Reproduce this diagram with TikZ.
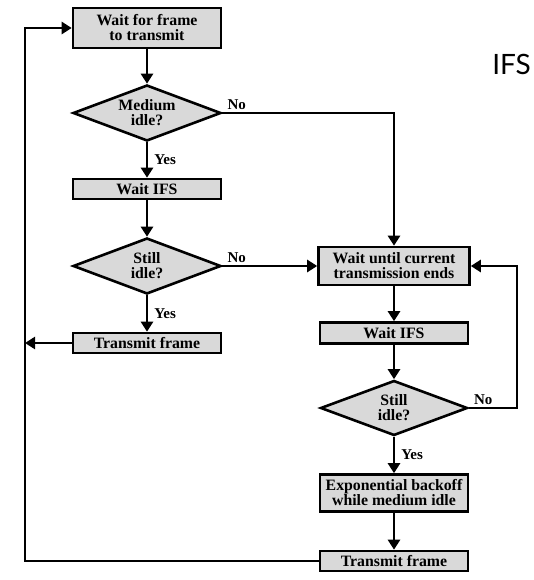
\documentclass[tikz,border=0pt]{standalone}
\usepackage{fontspec}
\setmainfont{Liberation Serif}
\newfontfamily\ifsfont{Lato}
\usetikzlibrary{positioning,shapes.geometric,arrows.meta}
\definecolor{boxgray}{RGB}{217,217,217}

\begin{document}
\begin{tikzpicture}[x=1pt,y=-1pt,
    proc/.style={draw, fill=boxgray, line width=2.6pt, minimum width=148pt, inner sep=1pt,
        align=center, font=\bfseries\fontsize{15.8}{15}\selectfont},
    test/.style={diamond, draw, fill=boxgray, line width=2.6pt, aspect=2.6, inner sep=0pt,
        minimum width=148pt, minimum height=56pt,
        align=center, font=\bfseries\fontsize{15.8}{15}\selectfont},
    flow/.style={line width=2.6pt, -{Triangle[length=10pt,width=12pt]}},
    lbl/.style={font=\bfseries\fontsize{15}{15}\selectfont, inner sep=2pt}
]
    \useasboundingbox (0,0) rectangle (533,580);

    % left column
    \node[proc, minimum height=40pt] (waitframe) at (147,28) {Wait for frame\\to transmit};
    \node[test] (mediumidle) at (147,113) {Medium\\idle?};
    \node[proc, minimum height=20pt] (waitifsa) at (147,189) {Wait IFS};
    \node[test] (stillidlea) at (147,266) {Still\\idle?};
    \node[proc, minimum height=20pt] (transmita) at (147,343) {Transmit frame};

    % right column
    \node[proc, minimum width=151pt, minimum height=38pt] (waitend) at (394,266) {Wait until current\\transmission ends};
    \node[proc, minimum height=21pt] (waitifsb) at (394,333) {Wait IFS};
    \node[test, minimum width=147pt, minimum height=55pt] (stillidleb) at (394,408) {Still\\idle?};
    \node[proc, minimum height=37pt] (backoff) at (394,493) {Exponential backoff\\while medium idle};
    \node[proc, minimum height=20pt] (transmitb) at (394,561) {Transmit frame};

    \node[font=\ifsfont\fontsize{28}{30}\selectfont, anchor=east, inner sep=0pt] (ifstitle) at (531,64) {IFS};

    \coordinate (leftloop) at (25,28);
    \coordinate (rightloop) at (517,408);

    \draw[flow] (waitframe) -- (mediumidle);
    \draw[flow] (mediumidle) -- node[lbl, right=4pt] {Yes} (waitifsa);
    \draw[flow] (waitifsa) -- (stillidlea);
    \draw[flow] (stillidlea) -- node[lbl, right=4pt] {Yes} (transmita);
    \draw[flow] (mediumidle.east) node[lbl, above right=0pt and 2pt] {No} -| (waitend.north);
    \draw[flow] (stillidlea.east) node[lbl, above right=0pt and 2pt] {No} -- (waitend.west);

    \draw[flow] (waitend) -- (waitifsb);
    \draw[flow] (waitifsb) -- (stillidleb);
    \draw[flow] (stillidleb) -- node[lbl, right=4pt] {Yes} (backoff);
    \draw[flow] (backoff) -- (transmitb);
    \draw[flow] (stillidleb.east) node[lbl, above right=0pt and 2pt] {No} -- (rightloop) |- (waitend.east);

    \draw[flow] (transmita.west) -- (transmita.west -| leftloop);
    \draw[flow] (transmitb.west) -| (leftloop) -- (waitframe.west);
\end{tikzpicture}
\end{document}
